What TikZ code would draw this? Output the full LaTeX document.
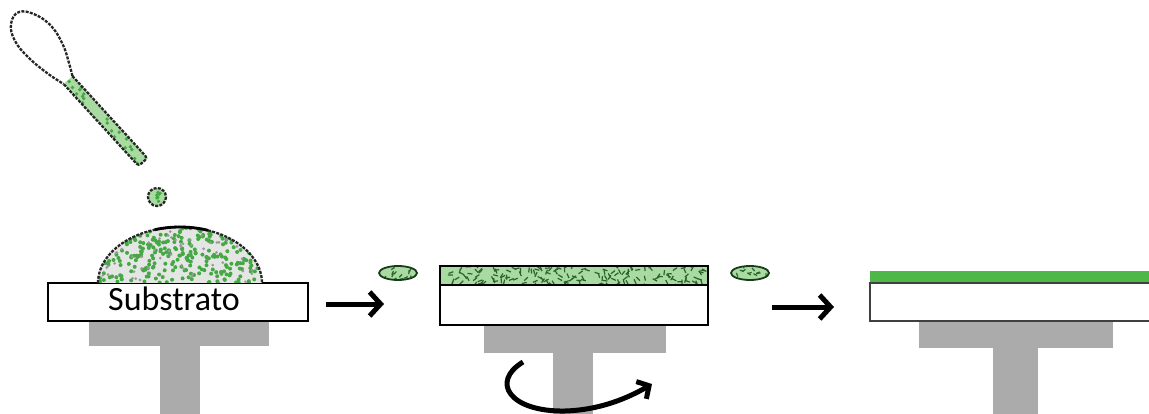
\documentclass[tikz,border=0pt]{standalone}
\usepackage{xcolor}
\usepackage{fontspec}
\usepackage{tikz}
\usetikzlibrary{arrows.meta}

\newfontfamily\labelfont{Carlito}

\definecolor{pedgray}{HTML}{ABABAB}
\definecolor{filmgreen}{HTML}{4DB848}
\definecolor{dotgreen}{HTML}{45A845}
\definecolor{solgreen}{HTML}{A9DAA2}
\definecolor{domegray}{HTML}{E4E6E4}

\begin{document}
\begin{tikzpicture}[x=1pt,y=-1pt,
    substrate/.style={draw=black,line width=1.6pt,fill=white},
    pedestal/.style={fill=pedgray},
    wet/.style={draw=black!85,dash pattern=on 3pt off 1.3pt,line width=2.3pt},
    process/.style={line width=5pt,-{Straight Barb[length=11pt,width=24pt]}}]
  \useasboundingbox (0,0) rectangle (1149,414);
  \pgfmathsetseed{11}

  % ---------- step 1: pouring the solution ----------
  % spoon bowl (empty) and handle (wet)
  \draw[wet] plot[smooth,tension=0.7] coordinates {(72.4,76) (69,63) (63,45) (52,27) (36,15)
      (19,12) (11,24) (15,41) (29,58) (47,73) (63.6,84)};
  \fill[solgreen] (63.6,84) -- (72.4,76) -- (147.4,158) -- (138.6,166) -- cycle;
  \begin{scope}
    \clip (63.6,84) -- (72.4,76) -- (147.4,158) -- (138.6,166) -- cycle;
    \foreach \i in {1,...,110} {
      \pgfmathsetmacro\px{62+88*rnd}
      \pgfmathsetmacro\py{75+92*rnd}
      \fill[dotgreen] (\px,\py) circle[radius=1.9];
    }
  \end{scope}
  \draw[wet,rounded corners=3pt] (72.4,76) -- (147.4,158) -- (138.6,166) -- (63.6,84);

  % falling drop
  \fill[solgreen] (157,197) circle[radius=9];
  \foreach \i in {1,...,8} {
    \pgfmathsetmacro\px{157+10*rnd-5}
    \pgfmathsetmacro\py{197+10*rnd-5}
    \fill[dotgreen] (\px,\py) circle[radius=1.8];
  }
  \draw[wet] (157,197) circle[radius=9];

  % spin stand and substrate
  \fill[pedestal] (89,321) rectangle (269,346);
  \fill[pedestal] (160,346) rectangle (200,414);
  \draw[substrate] (48,283) rectangle (308,321);
  \node[font=\labelfont\fontsize{34}{40}\selectfont,anchor=base] (sublabel) at (174,310) {Substrato};

  % puddle of solution on the substrate
  \fill[domegray] plot[domain=180:360,samples=60] ({180+82*cos(\x)},{283+56*sin(\x)}) -- cycle;
  \begin{scope}
    \clip plot[domain=180:360,samples=60] ({180+82*cos(\x)},{283+56*sin(\x)}) -- cycle;
    \foreach \i in {1,...,320} {
      \pgfmathsetmacro\px{98+165*rnd}
      \pgfmathsetmacro\py{227+56*rnd}
      \fill[dotgreen] (\px,\py) circle[radius=2];
    }
    \foreach \i in {1,...,70} {
      \pgfmathsetmacro\px{98+165*rnd}
      \pgfmathsetmacro\py{227+56*rnd}
      \fill[gray!80] (\px,\py) circle[radius=1.5];
    }
  \end{scope}
  \draw[wet] plot[domain=180:360,samples=60] ({180+82*cos(\x)},{283+56*sin(\x)});
  \draw[line width=2.8pt] plot[domain=252:290,samples=20] ({180+82*cos(\x)},{283+56*sin(\x)});

  % arrow to step 2
  \coordinate (go1) at (326,304);
  \coordinate (to1) at (384,304);
  \draw[process] (go1) -- (to1);

  % ---------- step 2: spinning ----------
  \fill[pedestal] (484,325) rectangle (666,353);
  \fill[pedestal] (553,353) rectangle (593,414);
  \draw[substrate] (440,285) rectangle (708,325);
  \fill[solgreen] (440,266) rectangle (708,285);
  \begin{scope}
    \clip (440,266) rectangle (708,285);
    \foreach \i in {1,...,170} {
      \pgfmathsetmacro\px{440+268*rnd}
      \pgfmathsetmacro\py{266+19*rnd}
      \pgfmathsetmacro\pa{360*rnd}
      \draw[dotgreen!60!black,line width=1.2pt] (\px,\py) -- ++(\pa:5);
    }
  \end{scope}
  \draw[line width=1.6pt] (440,266) rectangle (708,285);

  % solution thrown off the edges
  \foreach \dx in {398,750} {
    \fill[solgreen] (\dx,273) ellipse[x radius=19,y radius=7];
    \begin{scope}
      \clip (\dx,273) ellipse[x radius=19,y radius=7];
      \foreach \i in {1,...,12} {
        \pgfmathsetmacro\px{\dx-16+32*rnd}
        \pgfmathsetmacro\py{267+12*rnd}
        \pgfmathsetmacro\pa{360*rnd}
        \draw[dotgreen!60!black,line width=1.2pt] (\px,\py) -- ++(\pa:4);
      }
    \end{scope}
    \draw[line width=1.8pt,dotgreen!35!black] (\dx,273) ellipse[x radius=19,y radius=7];
  }

  % rotation
  \coordinate (spinA) at (523,362);
  \coordinate (spinB) at (652,384);
  \draw[line width=5pt,-{Straight Barb[length=9pt,width=20pt]}]
    (spinA) .. controls (490,382) and (510,412) .. (565,411)
    .. controls (600,410) and (628,398) .. (spinB);

  % arrow to step 3
  \coordinate (go2) at (772,307);
  \coordinate (to2) at (834,307);
  \draw[process] (go2) -- (to2);

  % ---------- step 3: finished film ----------
  \fill[pedestal] (919,321) rectangle (1113,348);
  \fill[pedestal] (993,348) rectangle (1038,414);
  \draw[draw=black!75,line width=1.5pt,fill=white] (870,283) rectangle (1153,321);
  \fill[filmgreen] (870,271) rectangle (1153,282);
\end{tikzpicture}
\end{document}
